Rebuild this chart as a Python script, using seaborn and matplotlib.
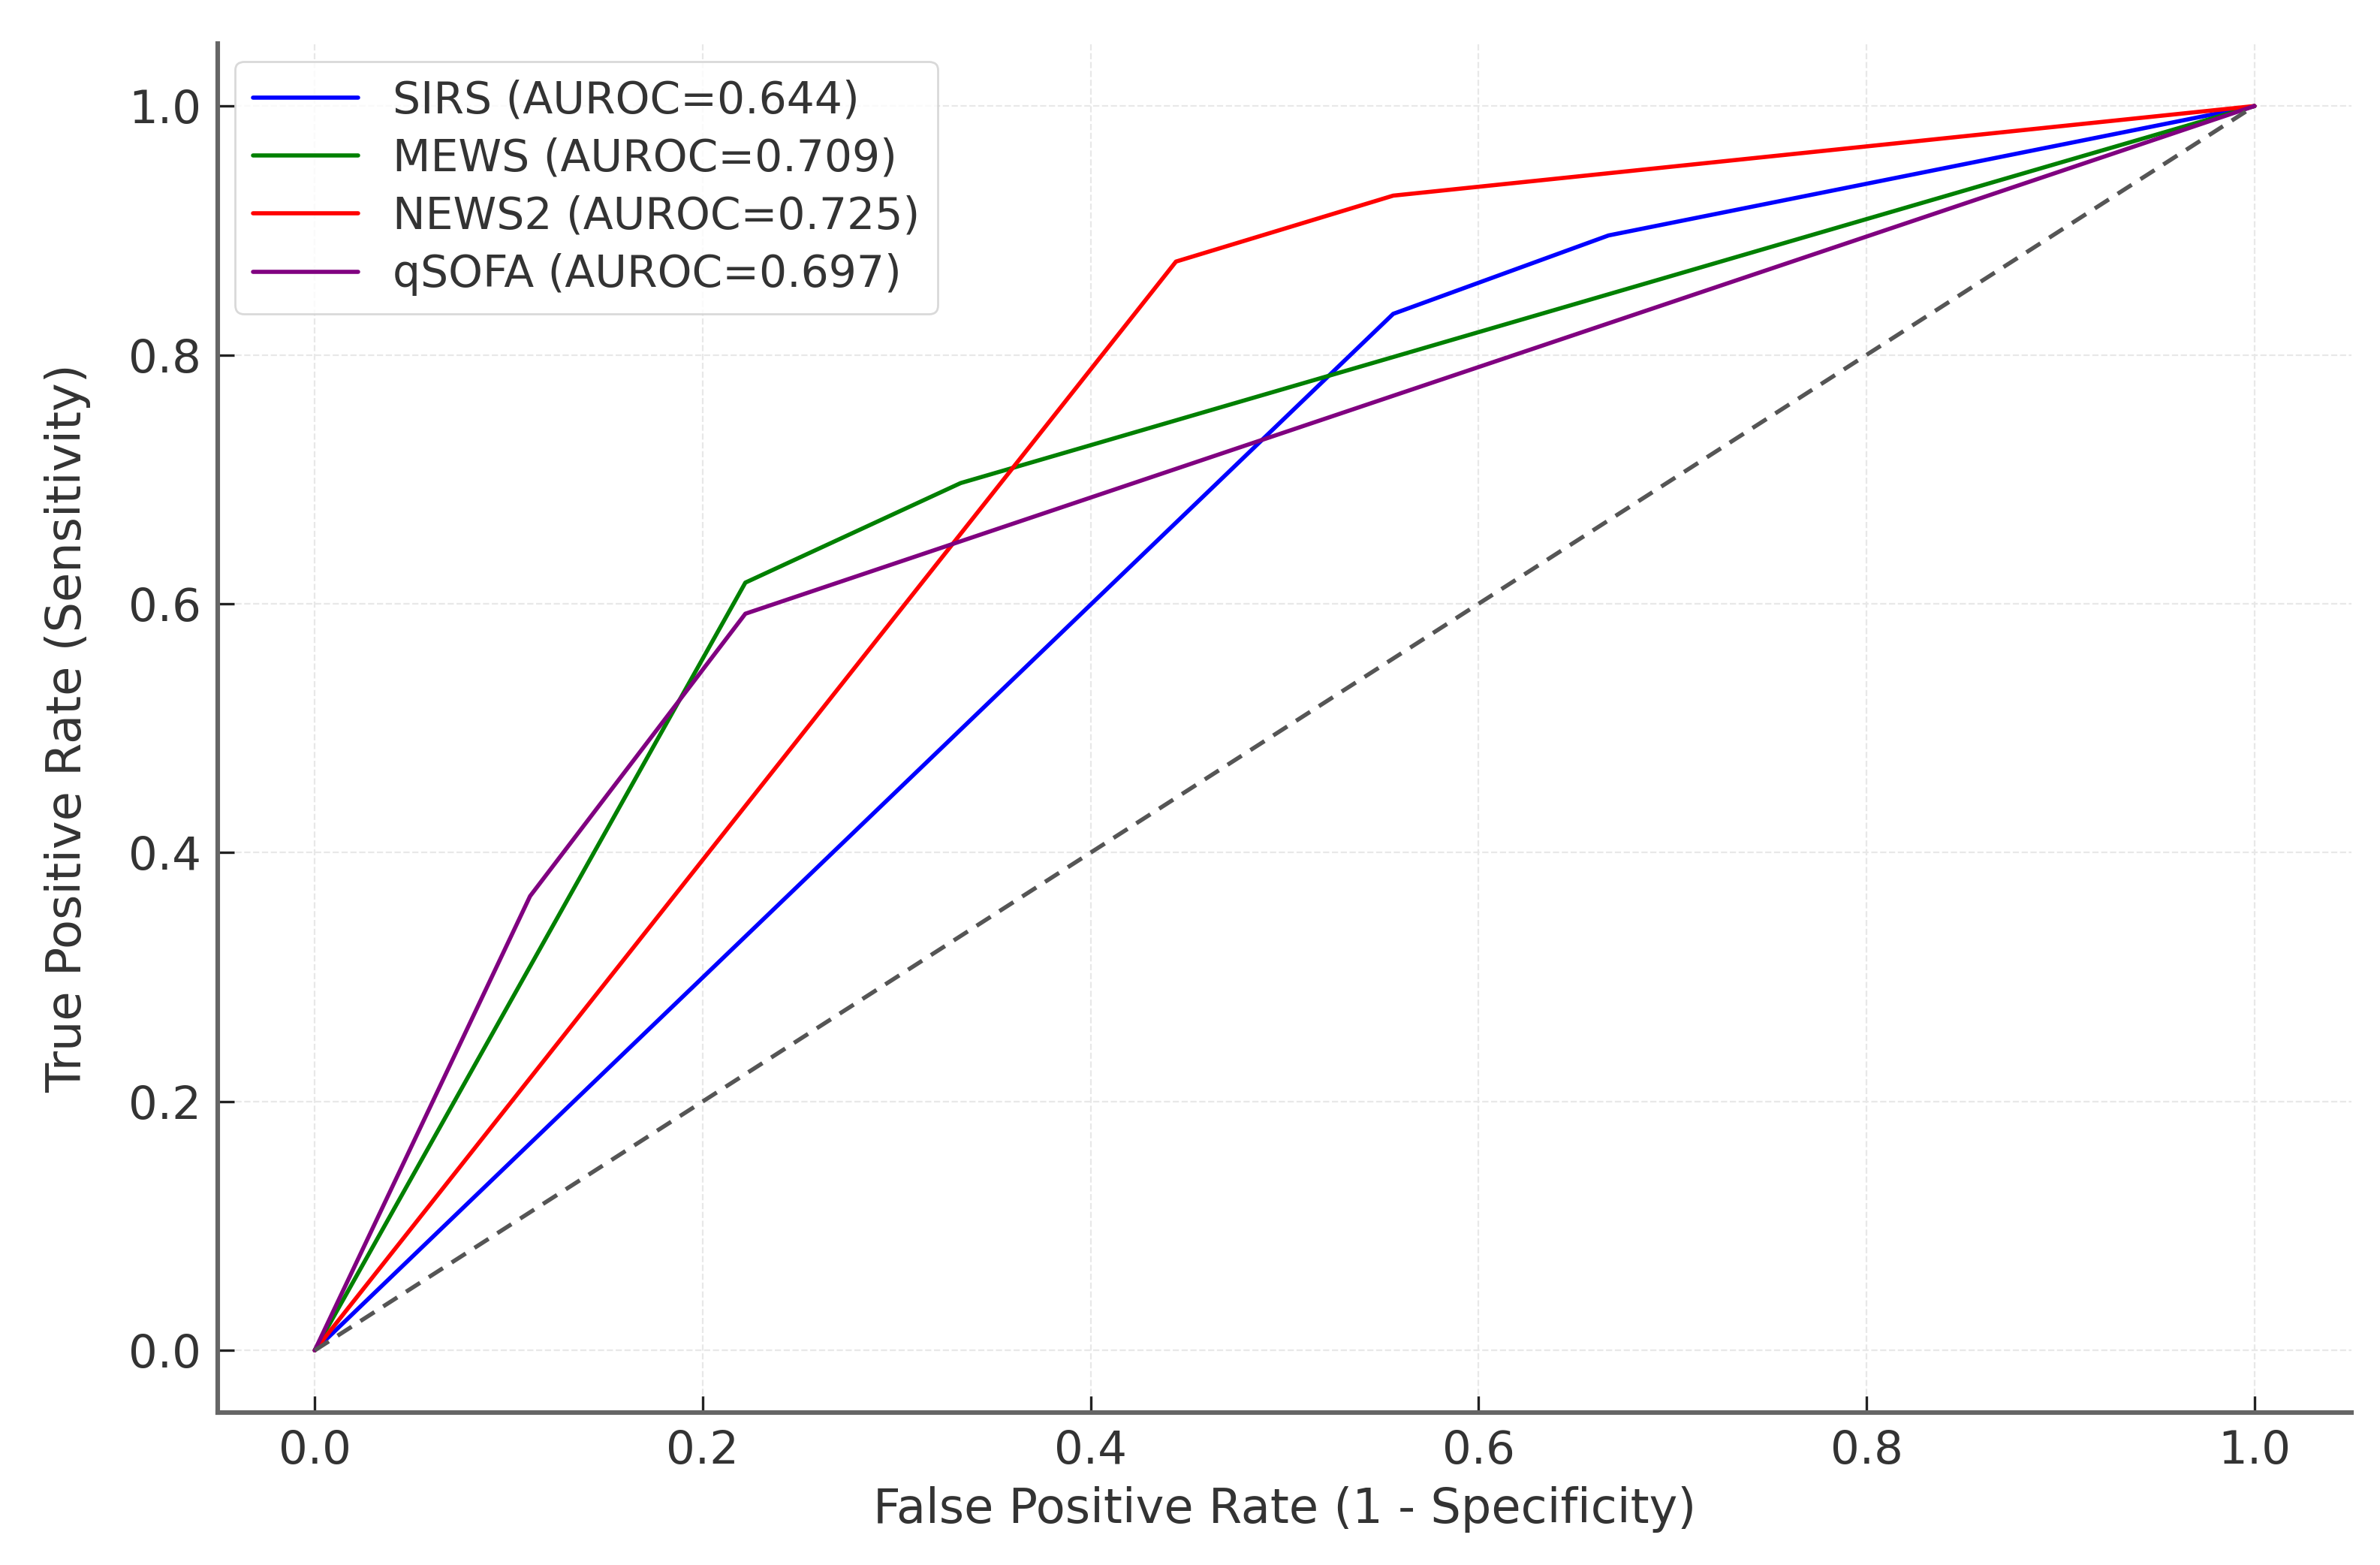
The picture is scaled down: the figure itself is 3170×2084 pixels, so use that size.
import matplotlib
matplotlib.use("Agg")
import matplotlib.pyplot as plt
import seaborn as sns
import pandas as pd

# ROC points
sirs_fpr = [0.0, 0.556, 0.667, 1.0]
sirs_tpr = [0.0, 0.833, 0.896, 1.0]
mews_fpr = [0.0, 0.222, 0.333, 1.0]
mews_tpr = [0.0, 0.617, 0.697, 1.0]
news2_fpr = [0.0, 0.444, 0.556, 1.0]
news2_tpr = [0.0, 0.875, 0.928, 1.0]
qsofa_fpr = [0.0, 0.111, 0.222, 1.0]
qsofa_tpr = [0.0, 0.365, 0.592, 1.0]

scores = ['SIRS', 'MEWS', 'NEWS2', 'qSOFA']
aurocs = [0.644, 0.709, 0.725, 0.697]
colors = ['blue', 'green', 'red', 'purple']

sns.set_theme(style='whitegrid')
plt.rcParams['font.family'] = ['DejaVu Sans']

frames = []
for name, auc, fpr, tpr in zip(scores, aurocs,
                               [sirs_fpr, mews_fpr, news2_fpr, qsofa_fpr],
                               [sirs_tpr, mews_tpr, news2_tpr, qsofa_tpr]):
    frames.append(pd.DataFrame({'fpr': fpr, 'tpr': tpr,
                                'score': f'{name} (AUROC={auc:.3f})'}))
roc = pd.concat(frames, ignore_index=True)

fig = plt.figure(figsize=(15.85, 10.42), dpi=200)
ax = fig.add_axes([0.0915, 0.0974, 0.8965, 0.8746])

sns.lineplot(data=roc, x='fpr', y='tpr', hue='score', palette=colors,
             sort=False, estimator=None, linewidth=2.0, ax=ax)
ax.plot([0, 1], [0, 1], linestyle='--', color='#555555', linewidth=2.0,
        dashes=(4, 2.5))

ax.set_xlim(-0.05, 1.05)
ax.set_ylim(-0.05, 1.05)
ax.set_xticks([0.0, 0.2, 0.4, 0.6, 0.8, 1.0])
ax.set_yticks([0.0, 0.2, 0.4, 0.6, 0.8, 1.0])
ax.set_xlabel('False Positive Rate (1 - Specificity)', fontsize=23,
              color='#333333', labelpad=6)
ax.set_ylabel('True Positive Rate (Sensitivity)', fontsize=23,
              color='#333333', labelpad=18)
ax.tick_params(axis='both', labelsize=22, labelcolor='#333333', color='#222222',
               length=8, width=1.2, direction='in', left=True, bottom=True, pad=8)
ax.grid(True, linestyle='--', color='#e8e8e8', linewidth=0.8)

sns.despine(ax=ax)
for side in ['left', 'bottom']:
    ax.spines[side].set_color('#666666')
    ax.spines[side].set_linewidth(2.2)

leg = ax.legend(loc='upper left', fontsize=21, frameon=True, title=None,
                borderaxespad=0.4, handlelength=2.4, labelspacing=0.35)
leg.get_frame().set_edgecolor('#d0d0d0')
for t in leg.get_texts():
    t.set_color('#333333')

fig.savefig('out.png', dpi=200)
